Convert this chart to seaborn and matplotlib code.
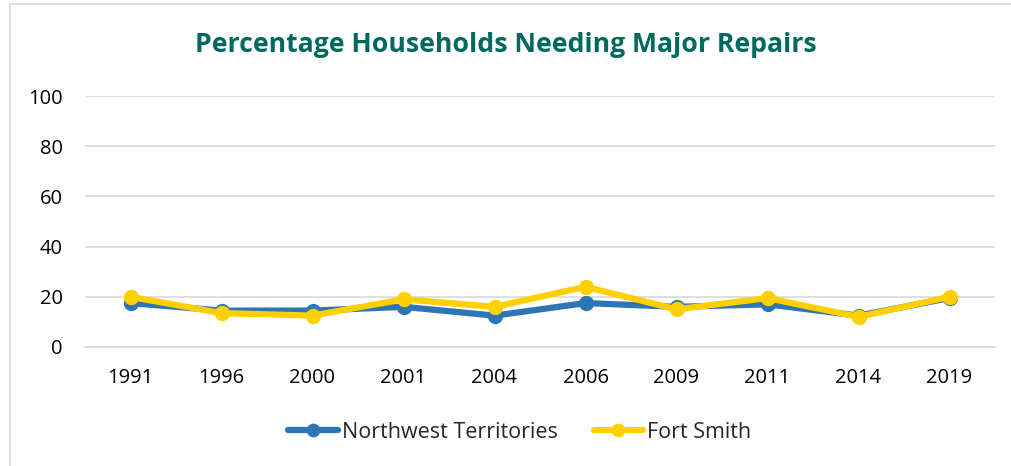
import pandas as pd
import matplotlib.pyplot as plt
import seaborn as sns
from matplotlib.patches import Rectangle

years = ["1991", "1996", "2000", "2001", "2004", "2006", "2009", "2011", "2014", "2019"]
nwt = [17.5, 14.5, 14.5, 16, 12.5, 17.5, 16, 17, 12.5, 19.5]
fort_smith = [20, 13.5, 12.5, 19, 16, 24, 15, 19.5, 12, 20]

df = pd.DataFrame({
    "year": years * 2,
    "value": nwt + fort_smith,
    "series": ["Northwest Territories"] * len(years) + ["Fort Smith"] * len(years),
})

sns.set_theme(style="white")
plt.rcParams["font.family"] = ["Open Sans", "DejaVu Sans"]

fig = plt.figure(figsize=(10.12, 4.66), dpi=100)
ax = fig.add_axes([85 / 1012, 1 - 347 / 466, 910 / 1012, 251 / 466])

palette = {"Northwest Territories": "#2E75B6", "Fort Smith": "#FFD000"}
sns.lineplot(data=df, x="year", y="value", hue="series", palette=palette,
             marker="o", markersize=11, linewidth=4.5, markeredgewidth=0,
             sort=False, ax=ax)

ax.set_xlim(-0.5, len(years) - 0.5)
ax.set_ylim(0, 100)
ax.set_yticks(range(0, 101, 20))
ax.yaxis.grid(True, color="#D9D9D9", linewidth=1.2)
ax.set_axisbelow(True)
for s in ["top", "right", "left"]:
    ax.spines[s].set_visible(False)
ax.spines["bottom"].set_color("#D9D9D9")
ax.spines["bottom"].set_linewidth(1.2)
ax.tick_params(axis="both", labelsize=14.5, colors="#000000", length=0)
ax.tick_params(axis="x", pad=15)
ax.tick_params(axis="y", pad=16)
ax.set_xlabel("")
ax.set_ylabel("")

fig.text(0.5, 1 - 45 / 466, "Percentage Households Needing Major Repairs",
         ha="center", va="center", fontsize=19.2, fontweight="bold", color="#00695F")

handles, labels = ax.get_legend_handles_labels()
ax.legend(handles, labels, loc="center", bbox_to_anchor=(520 / 1012, 1 - 432 / 466),
          bbox_transform=fig.transFigure, ncol=2, frameon=False, fontsize=15.5,
          handlelength=2.3, handletextpad=0.2, columnspacing=1.65, markerscale=0.9)

fig.patches.append(Rectangle((10 / 1012, -0.01), 1.1, 1 - 4 / 466 + 0.01,
                             transform=fig.transFigure, fill=False,
                             edgecolor="#D9D9D9", linewidth=1.2))

fig.savefig("out.png", dpi=100)
